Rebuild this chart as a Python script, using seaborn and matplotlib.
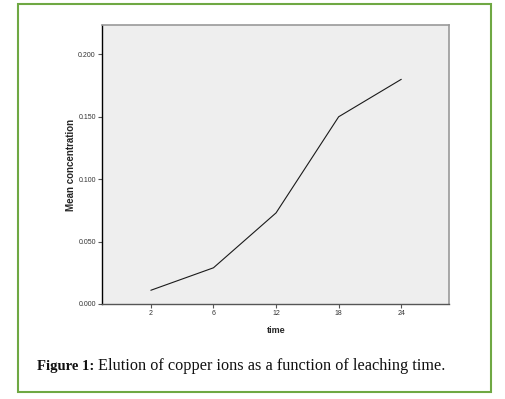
import matplotlib
matplotlib.use("Agg")
import matplotlib.pyplot as plt
import seaborn as sns
import pandas as pd
from matplotlib.patches import Rectangle

# Data
time_labels = ["2", "6", "12", "18", "24"]
mean_concentration = [0.011, 0.029, 0.073, 0.150, 0.180]
y_ticks = [0.000, 0.050, 0.100, 0.150, 0.200]

sns.set_style("white")
plt.rcParams['font.family'] = ['Liberation Sans', 'DejaVu Sans']

df = pd.DataFrame({"time": time_labels, "Mean concentration": mean_concentration})

fig = plt.figure(figsize=(5.06, 3.99), dpi=100)
ax = fig.add_axes([0.2016, 0.2381, 0.6867, 0.6992])
ax.set_facecolor("#eeeeee")

sns.lineplot(data=df, x="time", y="Mean concentration", ax=ax,
             color="#1a1a1a", linewidth=0.8, sort=False)

ax.set_xlim(-0.78, 4.77)
ax.set_ylim(0, 0.2235)
ax.set_yticks(y_ticks)
ax.set_yticklabels([f"{v:.3f}" for v in y_ticks])

ax.tick_params(axis="both", which="major", length=3, width=0.8, color="#555555",
               labelsize=5, labelcolor="#333333", pad=1.5, direction="out")
ax.tick_params(axis="x", bottom=True)
ax.tick_params(axis="y", left=True)

ax.set_xlabel("time", fontsize=6.5, fontweight="bold", labelpad=6)
ax.set_ylabel("Mean concentration", fontsize=7, fontweight="bold", labelpad=1.5)

ax.spines["left"].set_color("#000000")
ax.spines["left"].set_linewidth(1.0)
ax.spines["bottom"].set_color("#555555")
ax.spines["bottom"].set_linewidth(1.0)
for side in ["top", "right"]:
    ax.spines[side].set_visible(True)
    ax.spines[side].set_color("#999999")
    ax.spines[side].set_linewidth(1.2)

# Green frame
fig.patches.append(Rectangle((18 / 506, 1 - 392 / 399), 473 / 506, 388 / 399,
                             transform=fig.transFigure, fill=False,
                             edgecolor="#6fa843", linewidth=1.5))

# Caption
fig.text(37 / 506, 1 - 370 / 399, "Figure 1:", fontsize=10.5, fontweight="bold",
         family=["Liberation Serif", "DejaVu Serif"], va="baseline", ha="left",
         color="#111111")
fig.text(98 / 506, 1 - 370 / 399, "Elution of copper ions as a function of leaching time.",
         fontsize=11.7, family=["Liberation Serif", "DejaVu Serif"],
         va="baseline", ha="left", color="#111111")

fig.savefig("out.png", dpi=100)
